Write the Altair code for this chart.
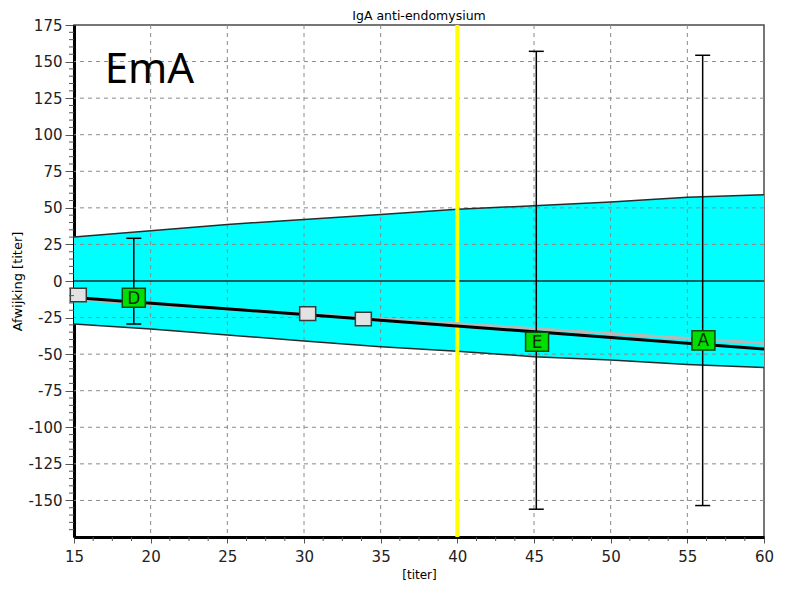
import altair as alt
import pandas as pd

# ---- data ----
band_x = [15, 20, 25, 30, 35, 40, 45, 50, 55, 60]
band_upper = [30, 34.4, 38.7, 42.1, 45.5, 49, 51.5, 54, 57.2, 59]
band_lower = [-29.4, -32.8, -36.9, -41, -44.9, -48, -51.7, -54, -57, -59.2]

reg_x = [15, 60]
reg_black = [-11.2, -46.5]
reg_gray = [-12.4, -42.6]

err_x = [18.9, 45.15, 56.0]
err_low = [-29.4, -156.0, -153.5]
err_high = [29.2, 157.0, 154.3]

lab_x = [18.9, 45.2, 56.05]
lab_y = [-11.4, -41.5, -40.6]
lab_text = ["D", "E", "A"]

gray_x = [15.28, 30.24, 33.87]
gray_y = [-9.6, -22.3, -26.0]

cutoff_x = [40]
zero_y = [0]

x_ticks = [15, 20, 25, 30, 35, 40, 45, 50, 55, 60]
y_ticks = [-150, -125, -100, -75, -50, -25, 0, 25, 50, 75, 100, 125, 150, 175]
x_grid = [20, 25, 30, 35, 40, 45, 50, 55]
y_grid = [-150, -125, -100, -75, -50, -25, 25, 50, 75, 100, 125, 150]
x_minor = [15 + 1.25 * i for i in range(37) if i % 4 != 0]
y_minor = [v for v in range(-170, 175, 5) if v % 25 != 0]

note_x = [17.0]
note_y = [135.3]
note_text = ["EmA"]

# ---- scales ----
xs = alt.Scale(domain=[15, 60], nice=False, zero=False)
ys = alt.Scale(domain=[-175, 175], nice=False, zero=False)

X = lambda f: alt.X(f, type="quantitative", scale=xs,
                    axis=alt.Axis(values=x_ticks, title="[titer]",
                                  labelExpr="'' + datum.value"))
Y = lambda f: alt.Y(f, type="quantitative", scale=ys,
                    axis=alt.Axis(values=y_ticks, title="Afwijking [titer]",
                                  labelExpr="'' + datum.value"))

band_df = pd.DataFrame({"x": band_x, "lo": band_lower, "hi": band_upper})
band = alt.Chart(band_df).mark_area(color="#00FFFF", opacity=1).encode(
    x=X("x"), y=Y("lo"), y2="hi")
band_hi = alt.Chart(band_df).mark_line(color="#2a2a2a", strokeWidth=1.5).encode(
    x=X("x"), y=Y("hi"))
band_lo = alt.Chart(band_df).mark_line(color="#2a2a2a", strokeWidth=1.5).encode(
    x=X("x"), y=Y("lo"))

gx = alt.Chart(pd.DataFrame({"x": x_grid})).mark_rule(
    color="#8a8a8a", strokeDash=[4, 4], strokeWidth=1).encode(x=X("x"))
gy = alt.Chart(pd.DataFrame({"y": y_grid})).mark_rule(
    color="#8a8a8a", strokeDash=[4, 4], strokeWidth=1).encode(y=Y("y"))

zero = alt.Chart(pd.DataFrame({"y": zero_y})).mark_rule(
    color="#0b3030", strokeWidth=1.5).encode(y=Y("y"))
cut = alt.Chart(pd.DataFrame({"x": cutoff_x})).mark_rule(
    color="#FFFF00", strokeWidth=4).encode(x=X("x"))

reg_df = pd.DataFrame({"x": reg_x, "g": reg_gray, "b": reg_black})
reg_g = alt.Chart(reg_df).mark_line(color="#b8b8b8", strokeWidth=3).encode(
    x=X("x"), y=Y("g"))
reg_b = alt.Chart(reg_df).mark_line(color="#000000", strokeWidth=3).encode(
    x=X("x"), y=Y("b"))

err_df = pd.DataFrame({"x": err_x, "lo": err_low, "hi": err_high})
err = alt.Chart(err_df).mark_rule(color="#000000", strokeWidth=1.5).encode(
    x=X("x"), y=Y("lo"), y2="hi")
cap_hi = alt.Chart(err_df).mark_tick(color="#000000", thickness=1.5, size=15,
                                     orient="horizontal", opacity=1).encode(
    x=X("x"), y=Y("hi"))
cap_lo = alt.Chart(err_df).mark_tick(color="#000000", thickness=1.5, size=15,
                                     orient="horizontal", opacity=1).encode(
    x=X("x"), y=Y("lo"))

gray_pts = alt.Chart(pd.DataFrame({"x": gray_x, "y": gray_y})).mark_point(
    shape="M -1 -0.85 L 1 -0.85 L 1 0.85 L -1 0.85 Z", size=256, filled=True,
    fill="#e2e2e2", stroke="#3a3a3a", strokeWidth=1.5, opacity=1).encode(
    x=X("x"), y=Y("y"))

lab_df = pd.DataFrame({"x": lab_x, "y": lab_y, "t": lab_text})
green_pts = alt.Chart(lab_df).mark_point(
    shape="M -1 -0.83 L 1 -0.83 L 1 0.83 L -1 0.83 Z", size=529, filled=True,
    fill="#00E000", stroke="#0a4a0a", strokeWidth=1.5, opacity=1).encode(
    x=X("x"), y=Y("y"))
green_txt = alt.Chart(lab_df).mark_text(
    font="DejaVu Sans", fontSize=17, color="#0a2a0a", baseline="middle",
    align="center", dy=1).encode(x=X("x"), y=Y("y"), text="t")

minor_y = alt.Chart(pd.DataFrame({"y": y_minor})).mark_rule(
    color="#555555", strokeWidth=1).encode(
    y=Y("y"), x=alt.value(-5), x2=alt.value(0))
minor_x = alt.Chart(pd.DataFrame({"x": x_minor})).mark_rule(
    color="#555555", strokeWidth=1).encode(
    x=X("x"), y=alt.value(512), y2=alt.value(516))

note = alt.Chart(pd.DataFrame({"x": note_x, "y": note_y, "t": note_text})).mark_text(
    font="Noto Sans", fontSize=42, color="#000000", align="left",
    baseline="alphabetic").encode(x=X("x"), y=Y("y"), text="t")

chart = alt.layer(
    band, gx, gy, band_hi, band_lo, zero, cut, reg_g, reg_b,
    err, cap_hi, cap_lo, gray_pts, green_pts, green_txt,
    minor_y, minor_x, note
).properties(
    width=690, height=512,
    title=alt.TitleParams("IgA anti-endomysium", font="DejaVu Sans", fontSize=12.5,
                          fontWeight="normal", color="#000000", anchor="middle",
                          frame="group", offset=2, dy=6),
    autosize=alt.AutoSizeParams(type="none"),
    padding={"left": 66, "top": 17, "right": 13, "bottom": 46},
    background="#ffffff",
).configure_view(
    stroke="#4a4a4a", strokeWidth=1.5, fill="#ffffff"
).configure_axis(
    grid=False, zindex=1, domainColor="#000000", domainWidth=3,
    tickColor="#555555", tickWidth=1, labelFont="DejaVu Sans", labelFontSize=15,
    labelColor="#222222", titleFont="DejaVu Sans", titleFontSize=12,
    titleFontWeight="normal", titleColor="#000000"
).configure_axisX(
    tickSize=6, labelPadding=6, titlePadding=5, labelFlush=False
).configure_axisY(
    tickSize=9, labelPadding=3, titleX=-57, titleY=256, titleAngle=-90,
    titleAlign="center", titleBaseline="middle", labelFlush=False,
    titleFontSize=13
)

chart.save("out.html", embed_options={"renderer": "svg", "actions": False})
